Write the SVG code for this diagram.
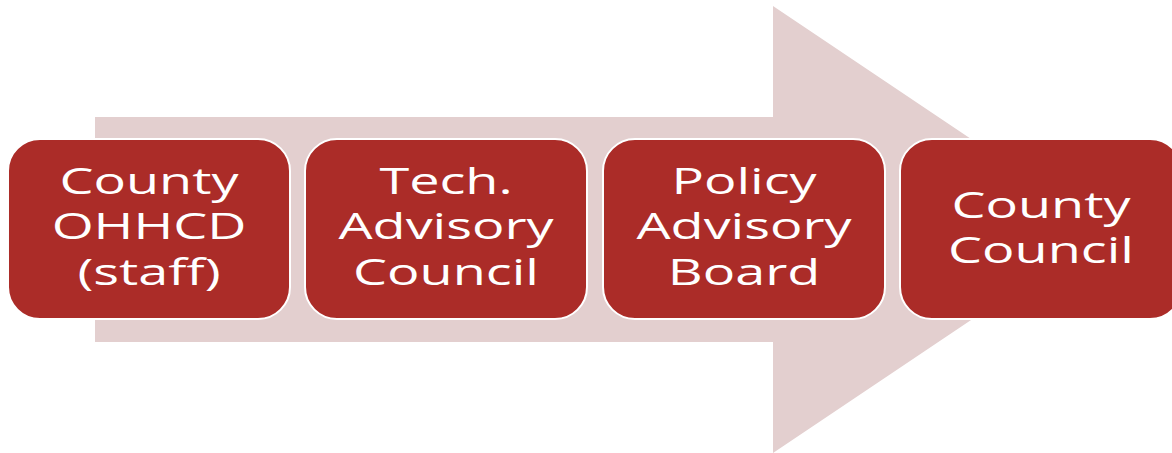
<svg xmlns="http://www.w3.org/2000/svg" width="1172" height="453" viewBox="0 0 1172 453">
<style>
.box{fill:#AB2C28;stroke:#FFFFFF;stroke-width:2}
.lbl{fill:#FFFFFF;font-family:"Open Sans","DejaVu Sans",sans-serif;font-size:36px;text-anchor:middle}
</style>
<rect width="1172" height="453" fill="#FFFFFF"/>
<g id="arrow">
<polygon points="95,117 773,117 773,6 1106,229.5 773,453 773,342 95,342" fill="#E3CFCF"/>
</g>
<g id="connectors"></g>
<g id="node1">
<rect class="box" x="8" y="139" width="282" height="180" rx="32" ry="32"/>
<g transform="translate(149,0) scale(1.5,1)"><text class="lbl" x="0" y="194">County</text><text class="lbl" x="0" y="239.5">OHHCD</text><text class="lbl" x="0" y="285">(staff)</text></g>
</g>
<g id="node2">
<rect class="box" x="305" y="139" width="282" height="180" rx="32" ry="32"/>
<g transform="translate(446,0) scale(1.5,1)"><text class="lbl" x="0" y="194">Tech.</text><text class="lbl" x="0" y="239.5">Advisory</text><text class="lbl" x="0" y="285">Council</text></g>
</g>
<g id="node3">
<rect class="box" x="603" y="139" width="282" height="180" rx="32" ry="32"/>
<g transform="translate(744,0) scale(1.5,1)"><text class="lbl" x="0" y="194">Policy</text><text class="lbl" x="0" y="239.5">Advisory</text><text class="lbl" x="0" y="285">Board</text></g>
</g>
<g id="node4">
<rect class="box" x="900" y="139" width="282" height="180" rx="32" ry="32"/>
<g transform="translate(1041,0) scale(1.5,1)"><text class="lbl" x="0" y="218">County</text><text class="lbl" x="0" y="263">Council</text></g>
</g>
</svg>
